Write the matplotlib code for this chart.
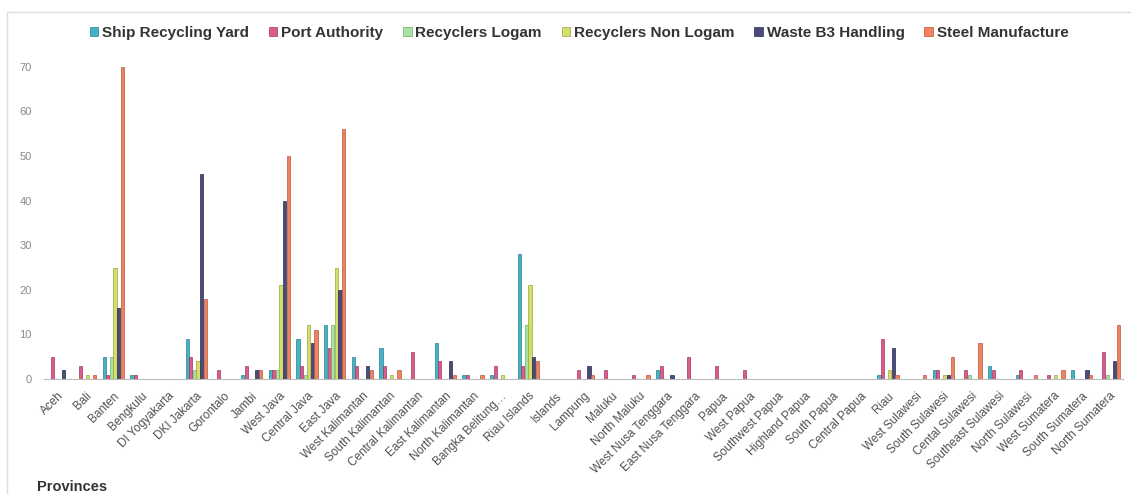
import matplotlib
matplotlib.use("Agg")
import matplotlib.pyplot as plt
import numpy as np
from matplotlib.patches import Rectangle

plt.rcParams['font.family'] = ['Liberation Sans', 'DejaVu Sans']

provinces = ["Aceh", "Bali", "Banten", "Bengkulu", "DI Yogyakarta", "DKI Jakarta",
             "Gorontalo", "Jambi", "West Java", "Central Java", "East Java",
             "West Kalimantan", "South Kalimantan", "Central Kalimantan",
             "East Kalimantan", "North Kalimantan", "Bangka Belitung…",
             "Riau Islands", "Islands", "Lampung", "Maluku", "North Maluku",
             "West Nusa Tenggara", "East Nusa Tenggara", "Papua", "West Papua",
             "Southwest Papua", "Highland Papua", "South Papua", "Central Papua",
             "Riau", "West Sulawesi", "South Sulawesi", "Cental Sulawesi",
             "Southeast Sulawesi", "North Sulawesi", "West Sumatera",
             "South Sumatera", "North Sumatera"]

ship_recycling_yard = [0, 0, 5, 1, 0, 9, 0, 1, 2, 9, 12, 5, 7, 0, 8, 1, 1, 28, 0, 0,
                       0, 0, 2, 0, 0, 0, 0, 0, 0, 0, 1, 0, 2, 0, 3, 1, 0, 2, 0]
port_authority = [5, 3, 1, 1, 0, 5, 2, 3, 2, 3, 7, 3, 3, 6, 4, 1, 3, 3, 0, 2,
                  2, 1, 3, 5, 3, 2, 0, 0, 0, 0, 9, 0, 2, 2, 2, 2, 1, 0, 6]
recyclers_logam = [0, 0, 5, 0, 0, 2, 0, 0, 2, 1, 12, 0, 0, 0, 0, 0, 0, 12, 0, 0,
                   0, 0, 0, 0, 0, 0, 0, 0, 0, 0, 0, 0, 0, 1, 0, 0, 0, 0, 1]
recyclers_non_logam = [0, 1, 25, 0, 0, 4, 0, 0, 21, 12, 25, 0, 1, 0, 0, 0, 1, 21, 0, 0,
                       0, 0, 0, 0, 0, 0, 0, 0, 0, 0, 2, 0, 1, 0, 0, 0, 1, 0, 0]
waste_b3_handling = [2, 0, 16, 0, 0, 46, 0, 2, 40, 8, 20, 3, 0, 0, 4, 0, 0, 5, 0, 3,
                     0, 0, 1, 0, 0, 0, 0, 0, 0, 0, 7, 0, 1, 0, 0, 0, 0, 2, 4]
steel_manufacture = [0, 1, 70, 0, 0, 18, 0, 2, 50, 11, 56, 2, 2, 0, 1, 1, 0, 4, 0, 1,
                     0, 1, 0, 0, 0, 0, 0, 0, 0, 0, 1, 1, 5, 8, 0, 1, 2, 1, 12]

series_names = ["Ship Recycling Yard", "Port Authority", "Recyclers Logam",
                "Recyclers Non Logam", "Waste B3 Handling", "Steel Manufacture"]
series_values = [ship_recycling_yard, port_authority, recyclers_logam,
                 recyclers_non_logam, waste_b3_handling, steel_manufacture]
colors = ["#45b3c6", "#df5a8c", "#a9e3a4", "#d3df6a", "#4a4a7c", "#f0835f"]
edges = ["#2d7f8e", "#9c3a60", "#6fa86c", "#9aa63c", "#2a2a4c", "#b35a3c"]

fig = plt.figure(figsize=(11.31, 4.94), dpi=100)
ax = fig.add_axes([0.039, 0.2328, 0.954, 0.6498])

x = np.arange(len(provinces))
step = 0.13
width = 0.115
for k, (name, vals) in enumerate(zip(series_names, series_values)):
    ax.bar(x + (k - 2.5) * step, vals, width=width, color=colors[k],
           edgecolor=edges[k], linewidth=0.5, label=name)

ax.set_xlim(-0.5, len(provinces) - 0.5)
ax.set_ylim(0, 72)
ax.set_yticks(np.arange(0, 71, 10))
ax.tick_params(axis='y', length=0, labelsize=8, labelcolor="#8a8a8a", pad=9)
ax.tick_params(axis='x', length=0, labelsize=8.5, labelcolor="#505050", pad=8)
ax.set_xticks(x)
ax.set_xticklabels(provinces, rotation=45, ha='right', rotation_mode='anchor')
for s in ["top", "right", "left"]:
    ax.spines[s].set_visible(False)
ax.spines["bottom"].set_color("#bbbbbb")
ax.spines["bottom"].set_linewidth(0.8)

leg = fig.legend(loc='center', bbox_to_anchor=(0.512, 0.933), ncol=6, frameon=False,
                 handlelength=0.55, handleheight=0.55, handletextpad=0.25,
                 columnspacing=1.3, prop={'weight': 'bold', 'size': 11})
for t in leg.get_texts():
    t.set_color("#333333")

fig.text(0.033, 0.006, "Provinces", fontsize=10.5, fontweight='bold', color="#333333")

fig.patches.append(Rectangle((0.006, -0.01), 1.0, 0.985, transform=fig.transFigure,
                             fill=False, edgecolor="#dddddd", linewidth=1.0))

fig.savefig("out.png", dpi=100)
